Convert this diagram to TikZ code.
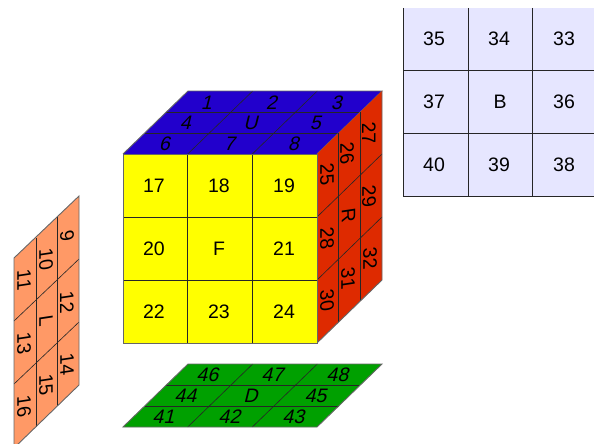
\documentclass[tikz,border=0pt]{standalone}
\usepackage{fontspec}
\setmainfont{Liberation Sans}
\definecolor{cubeblue}{HTML}{2200CC}
\definecolor{cubered}{HTML}{DE2A00}
\definecolor{cubeorange}{HTML}{FF9966}
\definecolor{cubegreen}{HTML}{00A000}
\definecolor{cubeback}{HTML}{E6E6FF}
\definecolor{cubeyellow}{HTML}{FFFF00}
\tikzset{
  x=1pt,y=-1pt,
  gridline/.style={draw=black!85,line width=.6pt},
  edgeline/.style={draw=black!60,line width=.9pt,line join=miter},
  lab/.style={inner sep=0pt,font=\fontsize{19.5}{20}\selectfont},
  flatlab/.style={lab,xslant=.25,transform shape},
  sidelab/.style={lab,rotate=-90,xslant=-.15,transform shape}
}
\begin{document}
\begin{tikzpicture}
\useasboundingbox (0,0) rectangle (594,444);
\clip (0,0) rectangle (594,444);
% back face
\fill[cubeback] (403,8) rectangle (594,196);
\draw[gridline] (403,8) -- (403,196) -- (594,196);
\draw[gridline] (468,8) -- (468,196) (532.5,8) -- (532.5,196);
\draw[gridline] (403,70) -- (594,70) (403,133) -- (594,133);
% top face
\fill[cubeblue] (123,154) -- (188,91) -- (382,91) -- (317,154) -- cycle;
\draw[gridline] (252.7,91) -- (187.7,154) (317.3,91) -- (252.3,154);
\draw[gridline] (166.3,112) -- (360.3,112) (144.7,133) -- (338.7,133);
\draw[edgeline] (123,154) -- (188,91) -- (382,91) -- (317,154);
% right face
\fill[cubered] (317,154) -- (382,91) -- (382,280) -- (317,343) -- cycle;
\draw[gridline] (338.7,133) -- (338.7,322) (360.3,112) -- (360.3,301);
\draw[gridline] (317,217) -- (382,154) (317,280) -- (382,217);
\draw[edgeline] (382,91) -- (382,280) -- (317,343);
% front face
\fill[cubeyellow] (123,154) rectangle (317,343);
\draw[gridline] (187.7,154) -- (187.7,343) (252.3,154) -- (252.3,343);
\draw[gridline] (123,217) -- (317,217) (123,280) -- (317,280);
\draw[edgeline] (123,154) rectangle (317,343);
% left face
\fill[cubeorange] (14,258) -- (79,196) -- (79,385) -- (14,448) -- cycle;
\draw[gridline] (36,238) -- (36,427) (57.5,217) -- (57.5,406);
\draw[gridline] (14,321) -- (79,259) (14,384) -- (79,322);
\draw[edgeline] (14,258) -- (79,196) -- (79,385) -- (14,448) -- cycle;
% down face
\fill[cubegreen] (123,427) -- (188,364) -- (382,364) -- (317,427) -- cycle;
\draw[gridline] (252.7,364) -- (187.7,427) (317.3,364) -- (252.3,427);
\draw[gridline] (166.3,385) -- (360.3,385) (144.7,406) -- (338.7,406);
\draw[edgeline] (123,427) -- (188,364) -- (382,364) -- (317,427) -- cycle;
% upright labels
\foreach \t/\a/\b in {35/434/39,34/499/39,33/564/39,37/434/102,B/500/102,36/564/102,40/434/165,39/499/165,38/564/165,
  17/154/186,18/219/186,19/284/186,20/154/249,F/219/249,21/284/249,22/154/312,23/219/312,24/284/312}
  \node[lab,name=n\t] at (\a,\b) {\t};
% labels on the top and bottom faces
\foreach \t/\a/\b in {1/208/103,2/273/103,3/338/103,4/187/123,U/252/123,5/317/123,6/166/144,7/231/144,8/295/144,
  46/209/375,47/274/375,48/339/375,44/187/396,D/252/396,45/317/396,41/165/417,42/231/417,43/295/417}
  \node[flatlab,name=n\t] at (\a,\b) {\t};
% labels on the side faces
\foreach \t/\a/\b in {25/327/174,28/327/238,30/327/300,26/347/153,R/348.5/216,31/348/278,27/369/133,29/369/196,32/370/258,
  9/67/236,10/46/259,11/24/280,12/67/302,L/46/321,13/24/343,14/67/364,15/46/385,16/24/406}
  \node[sidelab,name=n\t] at (\a,\b) {\t};
\end{tikzpicture}
\end{document}
